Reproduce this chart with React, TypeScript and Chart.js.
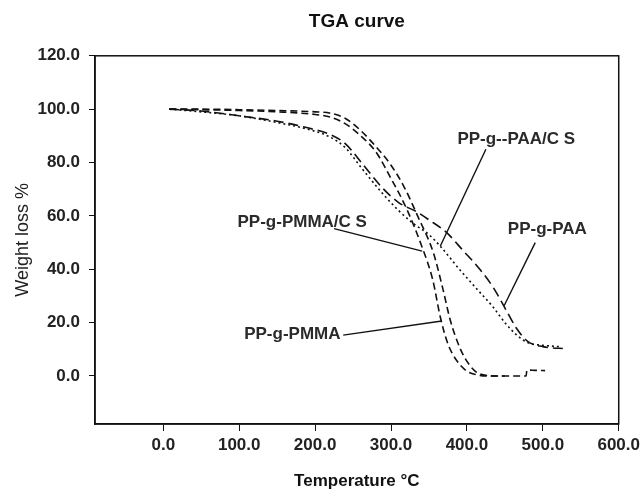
import { useEffect, useRef } from "react";
import { Chart, registerables } from "chart.js";

Chart.register(...registerables);

const FONT = "'Liberation Sans', Arial, Helvetica, sans-serif";

// Temperature (°C) / weight (%) readings for each curve
const pmmaCsX = [8, 50, 100, 150, 200, 220, 240, 260, 280, 300, 320, 340, 355, 365, 375, 386, 399, 412, 430, 450];
const pmmaCsY = [100, 99.8, 99.5, 99, 98, 97, 94.5, 90, 84, 74, 63, 49, 36, 22, 12, 6, 2, 0.5, 0, 0];

const pmmaX = [8, 50, 100, 150, 200, 220, 240, 260, 280, 300, 317, 335, 356, 368, 378, 390, 398, 410, 420, 440, 478, 479, 490, 503];
const pmmaY = [100, 100, 99.8, 99.5, 99, 98.5, 96.5, 92, 86, 79, 71, 60, 46, 33, 21, 11, 6.4, 2, 0.5, 0, 0, 2.2, 2.1, 2];

const paaX = [8, 50, 100, 150, 190, 220, 240, 261, 287, 310, 334, 350, 373, 395, 417, 435, 451, 465, 480, 500, 532];
const paaY = [100, 99.3, 97.5, 95.5, 93, 90.5, 87, 80, 71, 65, 61.5, 58.5, 53.8, 47, 40, 33, 25, 18, 13, 11, 10.2];

const paaCsX = [8, 50, 100, 150, 190, 220, 240, 261, 287, 310, 330, 350, 365, 390, 415, 434, 450, 465, 480, 500, 522];
const paaCsY = [100, 99, 97.5, 95, 92.5, 89.5, 85.5, 78, 69, 62, 57, 53, 48.6, 40, 32, 26, 20, 15.5, 12.5, 11.5, 11];

const xTickValues = [0, 100, 200, 300, 400, 500, 600];
const yTickValues = [0, 20, 40, 60, 80, 100, 120];

// Callout labels (data coordinates)
const labelTexts = ["PP-g--PAA/C S", "PP-g-PAA", "PP-g-PMMA/C S", "PP-g-PMMA"];
const labelX = [465, 506, 183, 170];
const labelY = [88.6, 55, 57.6, 15.7];
const pointerFromX = [425, 490, 225, 237];
const pointerFromY = [85, 50, 55.2, 15.3];
const pointerToX = [365, 449, 341, 367];
const pointerToY = [48.7, 26.3, 46.8, 20.6];

const toPoints = (xs: number[], ys: number[]) => xs.map((x, i) => ({ x, y: ys[i] }));

const framePlugin = {
  id: "frame",
  afterDraw(chart: any) {
    const { ctx, chartArea } = chart;
    ctx.save();
    ctx.strokeStyle = "#111";
    ctx.lineWidth = 1.5;
    ctx.strokeRect(chartArea.left, chartArea.top, chartArea.right - chartArea.left, chartArea.bottom - chartArea.top);
    ctx.restore();
  },
};

const calloutPlugin = {
  id: "callouts",
  afterDatasetsDraw(chart: any) {
    const { ctx } = chart;
    const xs = chart.scales.x;
    const ys = chart.scales.y;
    ctx.save();
    ctx.strokeStyle = "#111";
    ctx.lineWidth = 1.4;
    ctx.setLineDash([]);
    for (let i = 0; i < labelTexts.length; i++) {
      ctx.beginPath();
      ctx.moveTo(xs.getPixelForValue(pointerFromX[i]), ys.getPixelForValue(pointerFromY[i]));
      ctx.lineTo(xs.getPixelForValue(pointerToX[i]), ys.getPixelForValue(pointerToY[i]));
      ctx.stroke();
    }
    ctx.font = `bold 17px ${FONT}`;
    ctx.fillStyle = "#2a2a2a";
    ctx.textAlign = "center";
    ctx.textBaseline = "middle";
    for (let i = 0; i < labelTexts.length; i++) {
      ctx.fillText(labelTexts[i], xs.getPixelForValue(labelX[i]), ys.getPixelForValue(labelY[i]));
    }
    ctx.restore();
  },
};

export default function App() {
  const ref = useRef<HTMLCanvasElement | null>(null);

  useEffect(() => {
    if (!ref.current) return;
    const common = {
      borderColor: "#111",
      borderWidth: 1.6,
      pointRadius: 0,
      fill: false,
      cubicInterpolationMode: "monotone" as const,
    };
    const chart = new Chart(ref.current, {
      type: "line",
      data: {
        datasets: [
          { ...common, label: "PP-g-PMMA/C S", data: toPoints(pmmaCsX, pmmaCsY), borderDash: [7, 4] },
          { ...common, label: "PP-g-PMMA", data: toPoints(pmmaX, pmmaY), borderDash: [7, 4] },
          { ...common, label: "PP-g-PAA", data: toPoints(paaX, paaY), borderDash: [10, 5] },
          { ...common, label: "PP-g--PAA/C S", data: toPoints(paaCsX, paaCsY), borderDash: [2, 3] },
        ],
      },
      options: {
        animation: false,
        responsive: false,
        layout: { padding: { left: 0, right: 16, top: 0, bottom: 0 } },
        plugins: {
          legend: { display: false },
          tooltip: { enabled: false },
          title: {
            display: true,
            text: "TGA curve",
            fullSize: false,
            color: "#111",
            font: { family: FONT, size: 19, weight: "bold" },
            padding: { top: 10, bottom: 23 },
          },
        },
        scales: {
          x: {
            type: "linear",
            min: -90,
            max: 600,
            afterBuildTicks: (scale: any) => {
              scale.ticks = xTickValues.map((v) => ({ value: v }));
            },
            afterFit: (scale: any) => {
              scale.height = 68;
            },
            grid: { display: true, drawOnChartArea: false, drawTicks: true, tickLength: 7, color: "#111" },
            border: { display: true, color: "#111", width: 1.5 },
            ticks: {
              color: "#222",
              padding: 4,
              maxRotation: 0,
              font: { family: FONT, size: 17, weight: "bold" },
              callback: (v: any) => Number(v).toFixed(1),
            },
            title: {
              display: true,
              text: "Temperature °C",
              color: "#111",
              font: { family: FONT, size: 17, weight: "bold" },
              padding: { top: 0, bottom: 0 },
            },
          },
          y: {
            type: "linear",
            min: -18,
            max: 120,
            afterBuildTicks: (scale: any) => {
              scale.ticks = yTickValues.map((v) => ({ value: v }));
            },
            afterFit: (scale: any) => {
              scale.width = 95;
            },
            grid: { display: true, drawOnChartArea: false, drawTicks: true, tickLength: 6, color: "#111" },
            border: { display: true, color: "#111", width: 1.5 },
            ticks: {
              color: "#222",
              padding: 9,
              font: { family: FONT, size: 17, weight: "bold" },
              callback: (v: any) => Number(v).toFixed(1),
            },
            title: {
              display: true,
              text: "Weight loss %",
              color: "#222",
              font: { family: FONT, size: 18, weight: "normal" },
              padding: { top: 12, bottom: 0 },
            },
          },
        },
      },
      plugins: [framePlugin, calloutPlugin],
    });
    return () => chart.destroy();
  }, []);

  return (
    <div style={{ position: "absolute", left: 0, top: 0, width: 644, height: 492, background: "#fff" }}>
      <canvas ref={ref} width={644} height={492} />
    </div>
  );
}
